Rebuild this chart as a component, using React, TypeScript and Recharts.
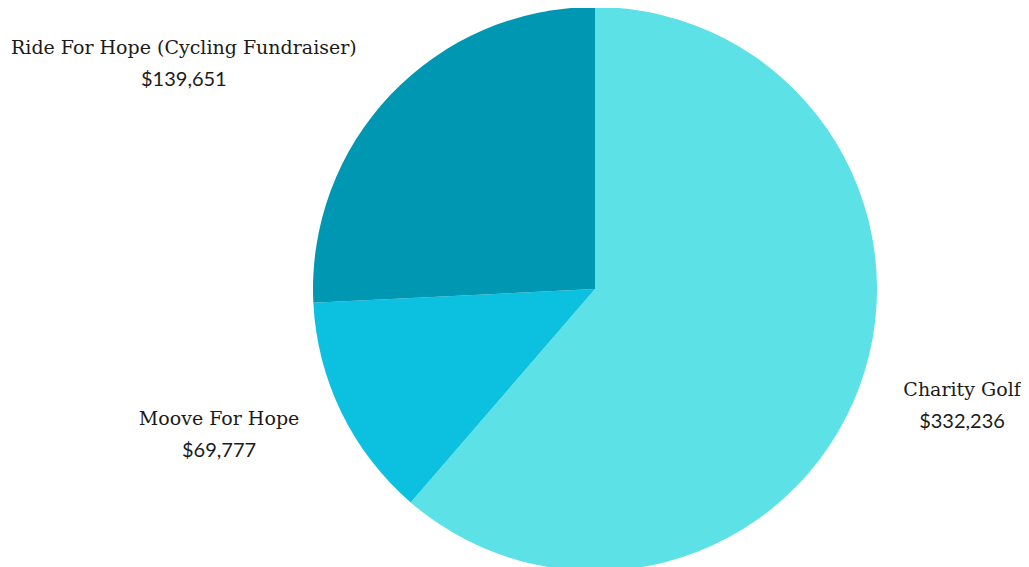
import { PieChart, Pie, Cell } from 'recharts';

const CATEGORIES = ['Charity Golf', 'Moove For Hope', 'Ride For Hope (Cycling Fundraiser)'];
const AMOUNTS = [332236, 69777, 139651];
const COLORS = ['#5ce1e6', '#0cc0df', '#0097b2'];

const data = CATEGORIES.map((name, i) => ({ name, value: AMOUNTS[i] }));

const NAME_FONT = '19px "DejaVu Serif"';
const VALUE_FONT = '20px Lato';
const RADIAN = Math.PI / 180;

let ctx: CanvasRenderingContext2D | null = null;
function textWidth(text: string, font: string) {
  if (!ctx) ctx = document.createElement('canvas').getContext('2d');
  if (!ctx) return text.length * 9;
  ctx.font = font;
  return ctx.measureText(text).width;
}

const fmt = (v: number) => '$' + v.toLocaleString('en-US');

function renderLabel(props: any) {
  const { cx, cy, midAngle, outerRadius, name, value } = props;
  const r = outerRadius + 47;
  const cos = Math.cos(-midAngle * RADIAN);
  const sin = Math.sin(-midAngle * RADIAN);
  const px = cx + r * cos;
  const py = cy + r * sin;
  const money = fmt(value);
  const w = Math.max(textWidth(name, NAME_FONT), textWidth(money, VALUE_FONT));
  const mx = cos >= 0 ? px + w / 2 : px - w / 2;
  return (
    <g>
      <text x={mx} y={py - 15} textAnchor="middle" dominantBaseline="central" fill="#1b1b1b"
        style={{ font: NAME_FONT }}>
        {name}
      </text>
      <text x={mx} y={py + 16} textAnchor="middle" dominantBaseline="central" fill="#1b1b1b"
        style={{ font: VALUE_FONT }}>
        {money}
      </text>
    </g>
  );
}

export default function App() {
  return (
    <div style={{ width: 1013, height: 559 }}>
      <PieChart width={1013} height={559} margin={{ top: 0, right: 0, bottom: 0, left: 0 }}>
        <Pie
          data={data}
          dataKey="value"
          nameKey="name"
          cx={587}
          cy={281}
          outerRadius={282}
          startAngle={90}
          endAngle={-270}
          stroke="none"
          label={renderLabel}
          labelLine={false}
          isAnimationActive={false}
        >
          {data.map((_, i) => (
            <Cell key={`cell-${i}`} fill={COLORS[i]} />
          ))}
        </Pie>
      </PieChart>
    </div>
  );
}
